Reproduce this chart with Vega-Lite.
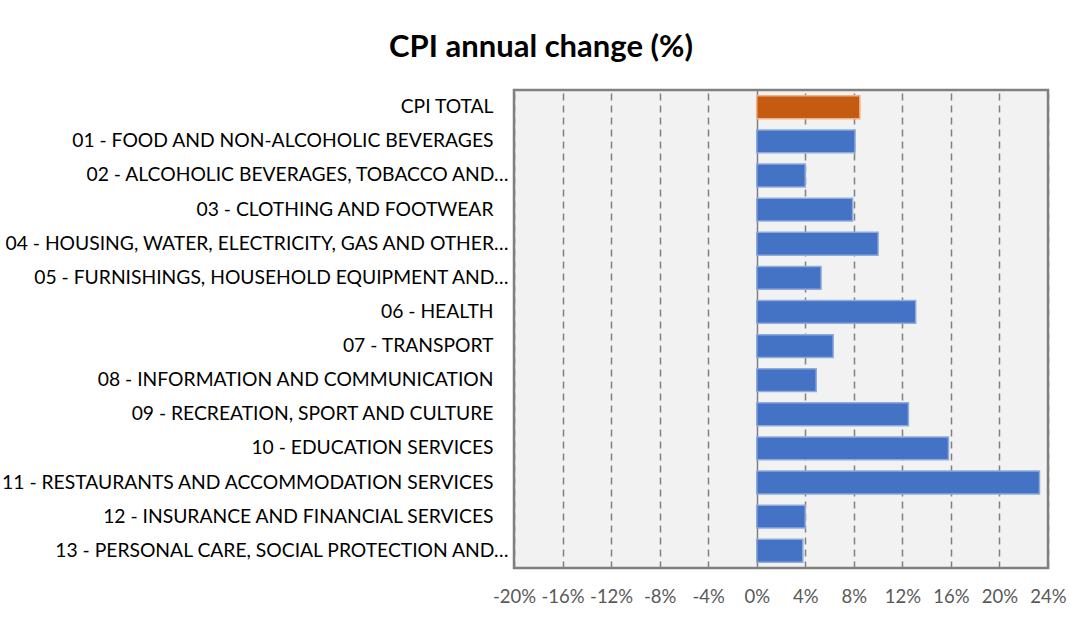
{
  "$schema": "https://vega.github.io/schema/vega-lite/v6.json",
  "autosize": {"type": "none"},
  "width": 534,
  "height": 478,
  "padding": {"left": 514, "top": 90, "right": 22, "bottom": 51},
  "background": "#ffffff",
  "title": {
    "text": "CPI annual change (%)",
    "font": "Lato",
    "fontSize": 31,
    "fontWeight": "bold",
    "color": "#000000",
    "anchor": "middle",
    "frame": "group",
    "dx": -240,
    "offset": 26
  },
  "data": {
    "values": [
      {"category": "CPI TOTAL", "change": 0.085, "type": "total"},
      {"category": "01 - FOOD AND NON-ALCOHOLIC BEVERAGES", "change": 0.081, "type": "group"},
      {"category": "02 - ALCOHOLIC BEVERAGES, TOBACCO AND…", "change": 0.040, "type": "group"},
      {"category": "03 - CLOTHING AND FOOTWEAR", "change": 0.079, "type": "group"},
      {"category": "04 - HOUSING, WATER, ELECTRICITY, GAS AND OTHER…", "change": 0.100, "type": "group"},
      {"category": "05 - FURNISHINGS, HOUSEHOLD EQUIPMENT AND…", "change": 0.053, "type": "group"},
      {"category": "06 - HEALTH", "change": 0.131, "type": "group"},
      {"category": "07 - TRANSPORT", "change": 0.063, "type": "group"},
      {"category": "08 - INFORMATION AND COMMUNICATION", "change": 0.049, "type": "group"},
      {"category": "09 - RECREATION, SPORT AND CULTURE", "change": 0.125, "type": "group"},
      {"category": "10 - EDUCATION SERVICES", "change": 0.158, "type": "group"},
      {"category": "11 - RESTAURANTS AND ACCOMMODATION SERVICES", "change": 0.233, "type": "group"},
      {"category": "12 - INSURANCE AND FINANCIAL SERVICES", "change": 0.040, "type": "group"},
      {"category": "13 - PERSONAL CARE, SOCIAL PROTECTION AND…", "change": 0.038, "type": "group"}
    ]
  },
  "mark": {"type": "bar", "strokeWidth": 1.5},
  "encoding": {
    "y": {
      "field": "category",
      "type": "nominal",
      "sort": null,
      "title": null,
      "scale": {"paddingInner": 0.33, "paddingOuter": 0.17},
      "axis": {
        "domain": false,
        "ticks": false,
        "labelFont": "Lato",
        "labelFontSize": 19.3,
        "labelColor": "#000000",
        "labelPadding": {"condition": {"test": "indexof(datum.label, '…') >= 0", "value": 6}, "value": 21},
        "labelLimit": 0
      }
    },
    "x": {
      "field": "change",
      "type": "quantitative",
      "title": null,
      "scale": {"domain": [-0.2, 0.24], "nice": false, "zero": false},
      "axis": {
        "values": [-0.2, -0.16, -0.12, -0.08, -0.04, 0, 0.04, 0.08, 0.12, 0.16, 0.2, 0.24],
        "labelExpr": "(datum.value < 0 ? '-' : '') + format(abs(datum.value) * 100, '.0f') + '%'",
        "domain": false,
        "ticks": false,
        "grid": true,
        "gridColor": "#808080",
        "gridWidth": 1.5,
        "gridDash": {"condition": {"test": "abs(datum.value) < 0.0001", "value": []}, "value": [7, 5]},
        "labelFont": "Lato",
        "labelFontSize": 18.5,
        "labelColor": "#595959",
        "labelPadding": 19,
        "labelFlush": false
      }
    },
    "color": {
      "field": "type",
      "type": "nominal",
      "legend": null,
      "scale": {"domain": ["total", "group"], "range": ["#C55A11", "#4472C4"]}
    },
    "stroke": {
      "field": "type",
      "type": "nominal",
      "legend": null,
      "scale": {"domain": ["total", "group"], "range": ["#F4B183", "#8FAADC"]}
    }
  },
  "config": {
    "view": {"fill": "#F2F2F2", "stroke": "#808080", "strokeWidth": 2.5}
  }
}
